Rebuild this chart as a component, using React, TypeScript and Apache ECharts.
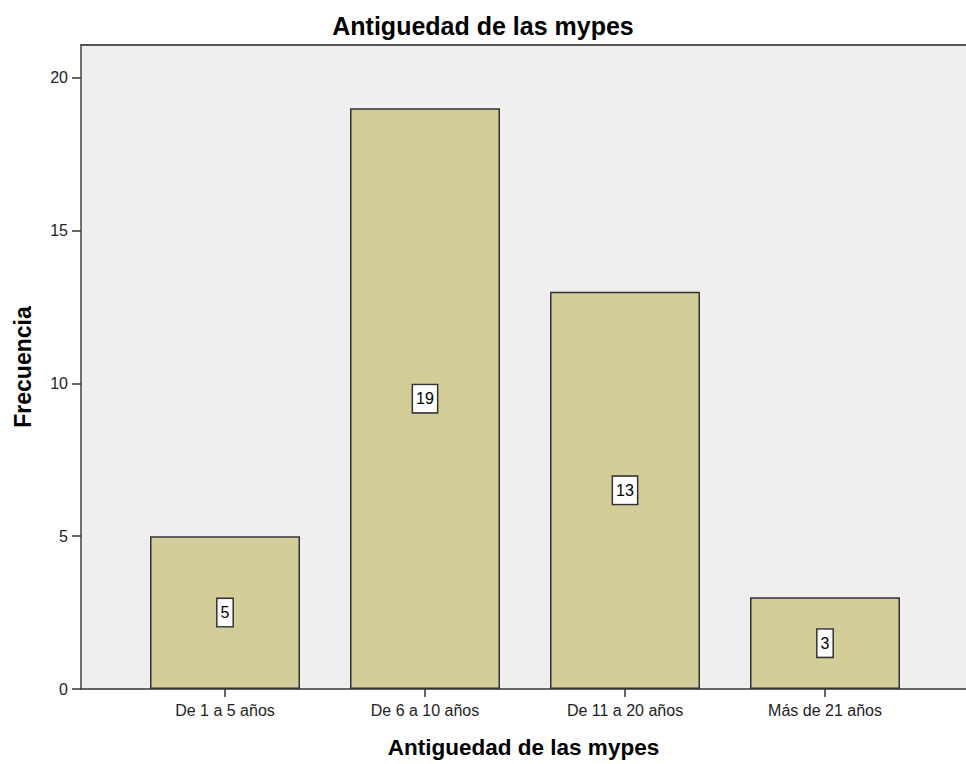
import React, { useEffect, useRef } from "react";
import * as echarts from "echarts";

const categories = ["De 1 a 5 años", "De 6 a 10 años", "De 11 a 20 años", "Más de 21 años"];
const positions = [1, 2, 3, 4];
const frequencies = [5, 19, 13, 3];
const yTicks = [0, 5, 10, 15, 20];

const FONT = "'Liberation Sans', Arial, sans-serif";

export default function App() {
  const ref = useRef<HTMLDivElement>(null);
  useEffect(() => {
    document.body.style.margin = "0";
    const chart = echarts.init(ref.current!, null, { renderer: "svg" });
    chart.setOption({
      animation: false,
      backgroundColor: "#ffffff",
      textStyle: { fontFamily: FONT },
      title: {
        text: "Antiguedad de las mypes",
        left: "center",
        top: 8,
        textStyle: { fontSize: 25, fontWeight: "bold", color: "#000", fontFamily: FONT },
      },
      grid: {
        left: 81,
        right: 0,
        top: 45,
        bottom: 69,
        show: true,
        backgroundColor: "#efefef",
        borderWidth: 0,
      },
      xAxis: [
        {
          type: "value",
          min: 0.28,
          max: 4.705,
          splitLine: { show: false },
          axisLine: { show: true, onZero: false, lineStyle: { color: "#333333", width: 1.5 } },
          axisTick: { show: true, customValues: positions, length: 8, lineStyle: { color: "#333333", width: 1.5 } },
          axisLabel: {
            customValues: positions,
            formatter: (v: number) => categories[Math.round(v) - 1] ?? "",
            fontSize: 16,
            color: "#222",
            margin: 13,
            fontFamily: FONT,
          },
          name: "Antiguedad de las mypes",
          nameLocation: "middle",
          nameGap: 47,
          nameTextStyle: { fontSize: 22.5, fontWeight: "bold", color: "#000", fontFamily: FONT },
        },
        {
          type: "value",
          position: "top",
          min: 0.28,
          max: 4.705,
          splitLine: { show: false },
          axisLine: { show: true, onZero: false, lineStyle: { color: "#555555", width: 2 } },
          axisTick: { show: false },
          axisLabel: { show: false },
        },
      ],
      yAxis: {
        type: "value",
        min: 0,
        max: 21.07,
        splitLine: { show: false },
        axisLine: { show: true, lineStyle: { color: "#444444", width: 1.5 } },
        axisTick: { show: true, customValues: yTicks, length: 9, lineStyle: { color: "#333333", width: 1.5 } },
        axisLabel: {
          customValues: yTicks,
          fontSize: 16,
          color: "#222",
          margin: 13,
          fontFamily: FONT,
        },
        name: "Frecuencia",
        nameLocation: "middle",
        nameGap: 47,
        nameTextStyle: { fontSize: 23, fontWeight: "bold", color: "#000", fontFamily: FONT },
      },
      series: [
        {
          type: "bar",
          xAxisIndex: 0,
          data: positions.map((p, i) => [p, frequencies[i]]),
          barWidth: 150,
          itemStyle: { color: "#d3cd99", borderColor: "#333333", borderWidth: 1.5 },
          label: {
            show: true,
            position: "inside",
            formatter: (p: any) => String(p.value[1]),
            color: "#000",
            fontSize: 16,
            fontFamily: FONT,
            backgroundColor: "#ffffff",
            borderColor: "#333333",
            borderWidth: 1.5,
            padding: [6, 3, 5, 3],
          },
        },
      ],
    });
    return () => chart.dispose();
  }, []);
  return <div ref={ref} style={{ width: 966, height: 764 }} />;
}
